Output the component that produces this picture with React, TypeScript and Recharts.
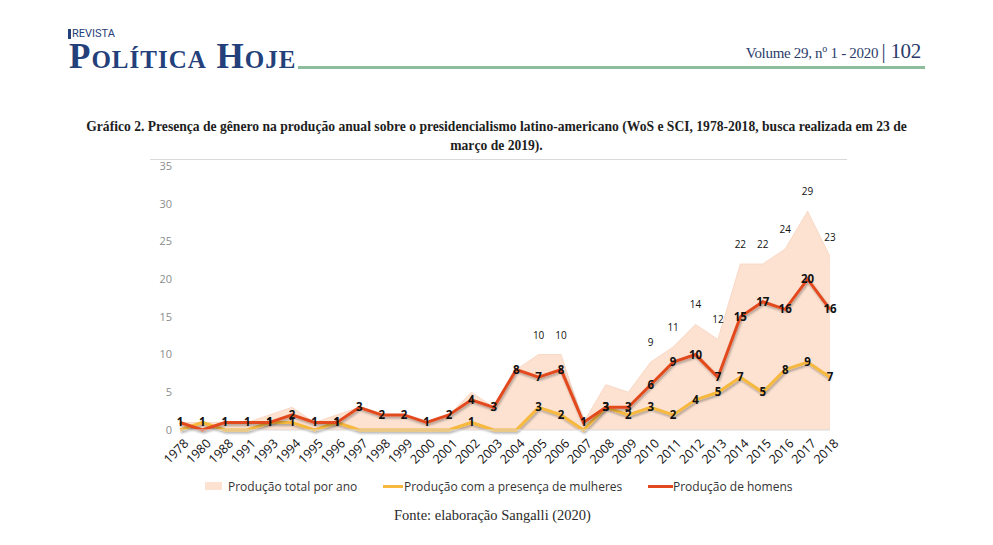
import React from 'react'
import { ComposedChart, Area, Line, XAxis, YAxis, LabelList } from 'recharts'

// anos com publicação
const years = [
  '1978', '1980', '1988', '1991', '1993', '1994', '1995', '1996', '1997', '1998',
  '1999', '2000', '2001', '2002', '2003', '2004', '2005', '2006', '2007', '2008',
  '2009', '2010', '2011', '2012', '2013', '2014', '2015', '2016', '2017', '2018',
]
const totalPorAno = [1, 1, 1, 1, 2, 3, 1, 2, 3, 2, 2, 1, 2, 5, 3, 8, 10, 10, 1, 6, 5, 9, 11, 14, 12, 22, 22, 24, 29, 23]
const comMulheres = [0, 1, 0, 0, 1, 1, 0, 1, 0, 0, 0, 0, 0, 1, 0, 0, 3, 2, 0, 3, 2, 3, 2, 4, 5, 7, 5, 8, 9, 7]
const homens = [1, 0, 1, 1, 1, 2, 1, 1, 3, 2, 2, 1, 2, 4, 3, 8, 7, 8, 1, 3, 3, 6, 9, 10, 7, 15, 17, 16, 20, 16]
// rótulos do total que aparecem no gráfico original
const totalLabelYears = ['2005', '2006', '2010', '2011', '2012', '2013', '2014', '2015', '2016', '2017', '2018']
const yTicks = [0, 5, 10, 15, 20, 25, 30, 35]

const data = years.map((year, i) => ({
  year,
  total: totalPorAno[i],
  mulheres: comMulheres[i],
  homens: homens[i],
}))

const AXIS_FONT = '"Open Sans", "DejaVu Sans", sans-serif'
const SERIF = '"Liberation Serif", "DejaVu Serif", serif'
const RED = '#e2491f'
const YELLOW = '#f6b83e'
const PEACH = '#fde2d1'

const TotalLabel = (props: any) => {
  const { x, y, index, value } = props
  if (!totalLabelYears.includes(years[index])) return null
  return (
    <text x={x} y={y - 16} textAnchor="middle" fontSize={10} fontFamily={AXIS_FONT} fill="#111">
      {value}
    </text>
  )
}

const PointLabel = (props: any) => {
  const { x, y, value } = props
  if (!value) return null
  return (
    <text x={x} y={y + 4} textAnchor="middle" fontSize={11.5} fontWeight={700} fontFamily={AXIS_FONT} fill="#111">
      {value}
    </text>
  )
}

export default function App() {
  return (
    <div style={{ position: 'absolute', left: 0, top: 0, width: 993, height: 545, background: '#fff', overflow: 'hidden' }}>
      {/* cabeçalho da revista */}
      <div style={{ position: 'absolute', left: 68, top: 28, display: 'flex', alignItems: 'center' }}>
        <div style={{ width: 3, height: 10, background: '#24407a', marginRight: 1 }} />
        <span style={{ fontFamily: 'Roboto, sans-serif', fontSize: 11, color: '#24407a', lineHeight: '11px' }}>REVISTA</span>
      </div>
      <div
        style={{
          position: 'absolute',
          left: 69,
          top: 41,
          fontFamily: SERIF,
          fontSize: 35,
          fontWeight: 700,
          fontVariant: 'small-caps',
          color: '#24407a',
          letterSpacing: 1,
          lineHeight: '32px',
          whiteSpace: 'nowrap',
        }}
      >
        Política Hoje
      </div>
      <div style={{ position: 'absolute', left: 298, top: 66, width: 627, height: 3, background: '#8dbd9c' }} />
      <div style={{ position: 'absolute', right: 72, top: 39, fontFamily: SERIF, color: '#2b3c6b', whiteSpace: 'nowrap', letterSpacing: -0.3 }}>
        <span style={{ fontSize: 15 }}>Volume 29, n</span>
        <span style={{ fontSize: 10, verticalAlign: 'super' }}>o</span>
        <span style={{ fontSize: 15 }}> 1 - 2020 </span>
        <span style={{ fontSize: 21 }}>| 102</span>
      </div>

      {/* título */}
      <div
        style={{
          position: 'absolute',
          left: 0,
          top: 117,
          width: 993,
          textAlign: 'center',
          fontFamily: SERIF,
          fontWeight: 700,
          fontSize: 13.6,
          lineHeight: '19px',
          color: '#1e1e1e',
          whiteSpace: 'nowrap',
        }}
      >
        Gráfico 2. Presença de gênero na produção anual sobre o presidencialismo latino-americano (WoS e SCI, 1978-2018, busca realizada em 23 de
        <br />
        março de 2019).
      </div>
      <div style={{ position: 'absolute', left: 150, top: 159, width: 697, height: 1, background: '#d9d9d9' }} />

      <div style={{ position: 'absolute', left: 130, top: 150 }}>
        <ComposedChart width={720} height={330} data={data} margin={{ top: 16, right: 20, bottom: 0, left: 10 }}>
          <defs>
            <filter id="sombra" x="-5%" y="-20%" width="110%" height="160%">
              <feDropShadow dx="1" dy="2" stdDeviation="1.2" floodColor="#000" floodOpacity="0.3" />
            </filter>
          </defs>
          <XAxis
            dataKey="year"
            interval={0}
            tickLine={false}
            axisLine={{ stroke: '#d9d9d9' }}
            height={50}
            angle={-45}
            textAnchor="end"
            dx={3}
            tick={{ fontSize: 12.5, fill: '#111', fontFamily: AXIS_FONT }}
          />
          <YAxis
            width={40}
            domain={[0, 35]}
            ticks={yTicks}
            axisLine={false}
            tickLine={false}
            tick={{ fontSize: 11, fill: '#8c8c8c', fontFamily: AXIS_FONT }}
          />
          <Area type="linear" dataKey="total" fill={PEACH} fillOpacity={1} stroke="#f9d8c5" strokeWidth={1} isAnimationActive={false}>
            <LabelList dataKey="total" content={TotalLabel} />
          </Area>
          <Line
            type="linear"
            dataKey="mulheres"
            stroke={YELLOW}
            strokeWidth={3}
            dot={false}
            filter="url(#sombra)"
            isAnimationActive={false}
          >
            <LabelList dataKey="mulheres" content={PointLabel} />
          </Line>
          <Line
            type="linear"
            dataKey="homens"
            stroke={RED}
            strokeWidth={3}
            dot={false}
            filter="url(#sombra)"
            isAnimationActive={false}
          >
            <LabelList dataKey="homens" content={PointLabel} />
          </Line>
        </ComposedChart>
      </div>

      {/* legenda */}
      <div style={{ position: 'absolute', left: 205, top: 478, fontFamily: AXIS_FONT, fontSize: 12, color: '#333', whiteSpace: 'nowrap' }}>
        <div style={{ position: 'absolute', left: 0, top: 4, width: 17, height: 8, background: PEACH }} />
        <span style={{ position: 'absolute', left: 23, top: 0 }}>Produção total por ano</span>
        <div style={{ position: 'absolute', left: 178, top: 7, width: 20, height: 3, background: YELLOW }} />
        <span style={{ position: 'absolute', left: 199, top: 0 }}>Produção com a presença de mulheres</span>
        <div style={{ position: 'absolute', left: 443, top: 7, width: 25, height: 3, background: RED }} />
        <span style={{ position: 'absolute', left: 468, top: 0 }}>Produção de homens</span>
      </div>

      <div style={{ position: 'absolute', left: 0, top: 507, width: 985, textAlign: 'center', fontFamily: SERIF, fontSize: 14.5, color: '#2a2a2a' }}>
        Fonte: elaboração Sangalli (2020)
      </div>
    </div>
  )
}
